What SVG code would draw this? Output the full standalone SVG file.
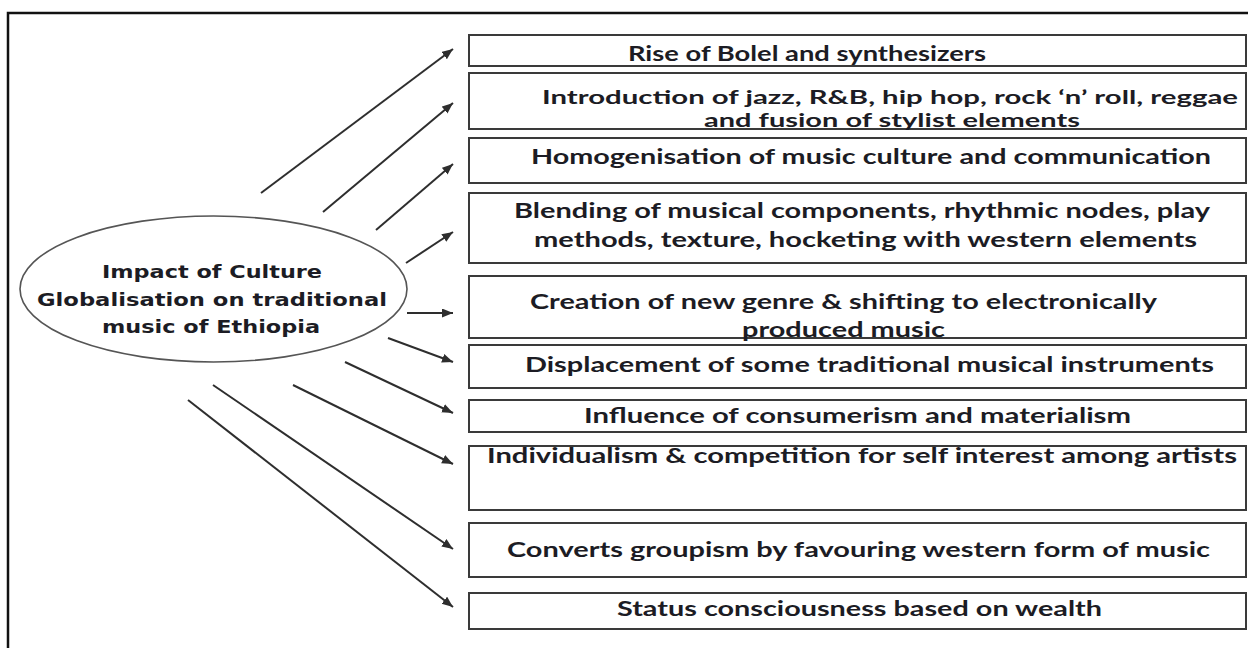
<svg xmlns="http://www.w3.org/2000/svg" width="1248" height="648" viewBox="0 0 1248 648">
<style>
.bg{fill:#ffffff}
.frame{fill:none;stroke:#111;stroke-width:2.5}
.box{fill:#fff;stroke:#3a3a3a;stroke-width:2}
.ell{fill:#fff;stroke:#555;stroke-width:1.6}
.t{font-family:Lato,"Liberation Sans",sans-serif;font-weight:bold;font-size:20px;fill:#1c1c24}
.t2{font-size:18.5px}
.et{font-family:"DejaVu Sans","Liberation Sans",sans-serif;font-weight:bold;font-size:18px;fill:#1c1c24}
.arr{stroke:#2e2e2e;stroke-width:2;fill:none;marker-end:url(#ah)}
</style>
<defs>
<marker id="ah" markerUnits="userSpaceOnUse" markerWidth="12" markerHeight="10" refX="11" refY="4.5" orient="auto">
<path d="M0,0 L11,4.5 L0,9 Z" fill="#2e2e2e"/>
</marker>
</defs>
<rect class="bg" x="0" y="0" width="1248" height="648"/>
<path class="frame" d="M8,650 L8,13 L1250,13"/>

<g id="center">
<ellipse class="ell" cx="213.5" cy="289" rx="193.5" ry="73"/>
<text class="et" x="212" y="278" text-anchor="middle" textLength="220" lengthAdjust="spacingAndGlyphs">Impact of Culture</text>
<text class="et" x="212" y="306" text-anchor="middle" textLength="350" lengthAdjust="spacingAndGlyphs">Globalisation on traditional</text>
<text class="et" x="211" y="333" text-anchor="middle" textLength="218" lengthAdjust="spacingAndGlyphs">music of Ethiopia</text>
</g>

<g id="connectors">
<line class="arr" x1="261" y1="193" x2="453" y2="49"/>
<line class="arr" x1="323" y1="212" x2="453" y2="103"/>
<line class="arr" x1="376" y1="230" x2="453" y2="164"/>
<line class="arr" x1="406" y1="263" x2="453" y2="232"/>
<line class="arr" x1="407" y1="313" x2="453" y2="313"/>
<line class="arr" x1="388" y1="338" x2="453" y2="362"/>
<line class="arr" x1="345" y1="362" x2="453" y2="413"/>
<line class="arr" x1="293" y1="385" x2="453" y2="464"/>
<line class="arr" x1="213" y1="385" x2="453" y2="549"/>
<line class="arr" x1="188" y1="400" x2="453" y2="607"/>
</g>

<g id="n1">
<rect class="box" x="469" y="35" width="777" height="31"/>
<text class="t" x="628" y="61" textLength="358" lengthAdjust="spacingAndGlyphs">Rise of Bolel and synthesizers</text>
</g>
<g id="n2">
<rect class="box" x="469" y="73" width="777" height="56"/>
<text class="t t2" x="542" y="104" textLength="696" lengthAdjust="spacingAndGlyphs">Introduction  of jazz, R&amp;B, hip hop, rock ‘n’ roll, reggae</text>
<text class="t t2" x="704" y="127" textLength="376" lengthAdjust="spacingAndGlyphs">and fusion of stylist elements</text>
</g>
<g id="n3">
<rect class="box" x="469" y="138" width="777" height="45"/>
<text class="t" x="531" y="164" textLength="680" lengthAdjust="spacingAndGlyphs">Homogenisation of music culture and communication</text>
</g>
<g id="n4">
<rect class="box" x="469" y="193" width="777" height="70"/>
<text class="t" x="514" y="218" textLength="696" lengthAdjust="spacingAndGlyphs">Blending of musical components, rhythmic nodes, play</text>
<text class="t" x="534" y="247" textLength="663" lengthAdjust="spacingAndGlyphs">methods, texture, hocketing with western elements</text>
</g>
<g id="n5">
<rect class="box" x="469" y="276" width="777" height="62"/>
<text class="t" x="530" y="309" textLength="627" lengthAdjust="spacingAndGlyphs">Creation of new genre &amp; shifting to electronically</text>
<text class="t" x="742" y="337" textLength="203" lengthAdjust="spacingAndGlyphs">produced  music</text>
</g>
<g id="n6">
<rect class="box" x="469" y="345" width="777" height="43"/>
<text class="t" x="525" y="372" textLength="689" lengthAdjust="spacingAndGlyphs">Displacement of some traditional musical instruments</text>
</g>
<g id="n7">
<rect class="box" x="469" y="400" width="777" height="32"/>
<text class="t" x="584" y="423" textLength="547" lengthAdjust="spacingAndGlyphs">Influence of consumerism and materialism</text>
</g>
<g id="n8">
<rect class="box" x="469" y="446" width="777" height="64"/>
<text class="t" x="487" y="463" textLength="750" lengthAdjust="spacingAndGlyphs">Individualism &amp; competition for self interest among artists</text>
</g>
<g id="n9">
<rect class="box" x="469" y="523" width="777" height="54"/>
<text class="t" x="507" y="557" textLength="703" lengthAdjust="spacingAndGlyphs">Converts groupism by favouring western form of music</text>
</g>
<g id="n10">
<rect class="box" x="469" y="593" width="777" height="36"/>
<text class="t" x="617" y="616" textLength="485" lengthAdjust="spacingAndGlyphs">Status consciousness based on wealth</text>
</g>
</svg>
